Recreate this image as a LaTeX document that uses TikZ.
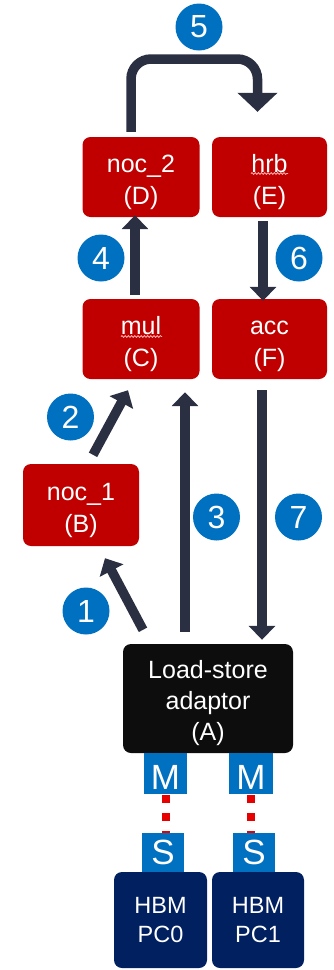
\documentclass[tikz,border=0pt]{standalone}
\usepackage{fontspec}
\setmainfont{Liberation Sans}
\usetikzlibrary{arrows.meta,calc,decorations.pathmorphing}

\definecolor{stagered}{HTML}{C00000}
\definecolor{lsablack}{HTML}{0D0D0D}
\definecolor{hbmnavy}{HTML}{002060}
\definecolor{portblue}{HTML}{0070C0}
\definecolor{flowdark}{HTML}{2A3042}
\definecolor{linkred}{HTML}{E60000}
\definecolor{spellpink}{HTML}{FFB4B4}

% extra height on the first line so two-line labels sit a little low in their boxes
\newcommand{\firstln}{\rule{0pt}{27.5pt}}

\begin{document}
\begin{tikzpicture}[x=1pt,y=-1pt,
  stage/.style={fill=stagered, rounded corners=8pt, text=white, align=center,
    font=\fontsize{25}{32}\selectfont, inner sep=0pt,
    minimum width=117pt, minimum height=80pt},
  lsa/.style={stage, fill=lsablack, font=\fontsize{25}{31}\selectfont,
    minimum width=170pt, minimum height=109pt},
  hbm/.style={stage, fill=hbmnavy, font=\fontsize{23.5}{28.5}\selectfont,
    minimum width=92pt, minimum height=96pt},
  port/.style={fill=portblue, text=white, inner sep=0pt},
  mport/.style={port, font=\fontsize{35}{35}\selectfont, text height=31pt,
    minimum width=43pt, minimum height=41pt},
  sport/.style={port, font=\fontsize{35}{35}\selectfont,
    minimum width=42pt, minimum height=39pt},
  badge/.style={circle, fill=portblue, text=white, inner sep=0pt,
    font=\fontsize{32}{32}\selectfont, minimum size=47pt},
  flow/.style={draw=flowdark, line width=9.5pt,
    -{Triangle[width=26pt,length=14pt]}},
  bigflow/.style={flow, -{Triangle[width=39pt,length=19pt]}},
  axilink/.style={draw=linkred, line width=8pt, dash pattern=on 8pt off 10pt,
    dash phase=-1pt},
  spell/.style={draw=spellpink, line width=0.8pt,
    decorate, decoration={snake, amplitude=0.9pt, segment length=3.2pt}}
]
\useasboundingbox (0,0) rectangle (333,970);

% processing stages
\node[stage] (D) at (141,177) {\firstln noc\_2\\(D)};
\node[stage, minimum width=115pt] (E) at (269.5,177) {\firstln hrb\\(E)};
\node[stage] (C) at (141,339) {\firstln mul\\(C)};
\node[stage, minimum width=115pt] (F) at (269.5,339) {\firstln acc\\(F)};
\node[stage, minimum width=116pt, minimum height=82pt] (B) at (81,505) {\firstln noc\_1\\(B)};

% load-store adaptor and its memory ports
\node[lsa] (A) at (208,698.5) {\firstln Load-store\\adaptor\\(A)};
\node[mport] (M0) at (165.5,773.5) {M};
\node[mport, minimum width=44pt] (M1) at (251,773.5) {M};

\draw[axilink] (M0.south) -- (M0.south |- 0,833);
\draw[axilink] (M1.south) -- (M1.south |- 0,833);

\node[sport] (S0) at (163,852.5) {S};
\node[sport] (S1) at (254,852.5) {S};
\node[hbm, minimum width=93pt] (H0) at (160.5,920) {HBM\\PC0};
\node[hbm] (H1) at (258,920) {HBM\\PC1};

% spell-check squiggles under two labels
\draw[spell] ($(E.center)+(-18.5,-3.5)$) -- ($(E.center)+(18.5,-3.5)$);
\draw[spell] ($(C.center)+(-20,-2.5)$) -- ($(C.center)+(21,-2.5)$);

% data flow
\coordinate (s1) at ($(A.north)+(-65,-14)$);
\coordinate (t1) at ($(B.south)+(24,12)$);
\draw[flow] (s1) -- (t1);

\coordinate (s2) at ($(B.north)+(12,-9)$);
\coordinate (t2) at ($(C.south)+(-13,11)$);
\draw[flow] (s2) -- (t2);

\coordinate (s3) at ($(A.north)+(-23,-12)$);
\draw[flow, shorten >=13pt] (s3) -- (s3 |- C.south);

\coordinate (s4) at ($(C.north)+(-6,-4)$);
\draw[flow, shorten >=-2pt] (s4) -- (s4 |- D.south);

\coordinate (s5) at ($(D.north)+(-10,-5)$);
\coordinate (top5) at (194,59);
\coordinate (t5) at ($(E.north)+(-12,-25)$);
\draw[bigflow, rounded corners=20pt] (s5) |- (top5) -| (t5);

\coordinate (s6) at ($(E.south)+(-6.5,4)$);
\draw[flow, shorten >=-2pt] (s6) -- (s6 |- F.north);

\coordinate (s7) at ($(F.south)+(-7.5,11)$);
\draw[flow, shorten >=4pt] (s7) -- (s7 |- A.north);

% step numbers
\node[badge] (n1) at (86,611) {1};
\node[badge] (n2) at (70.5,417) {2};
\node[badge] (n3) at (216.5,517) {3};
\node[badge] (n4) at (101,258) {4};
\node[badge] (n5) at (199,27) {5};
\node[badge] (n6) at (299,258) {6};
\node[badge] (n7) at (298.5,517) {7};
\end{tikzpicture}
\end{document}
